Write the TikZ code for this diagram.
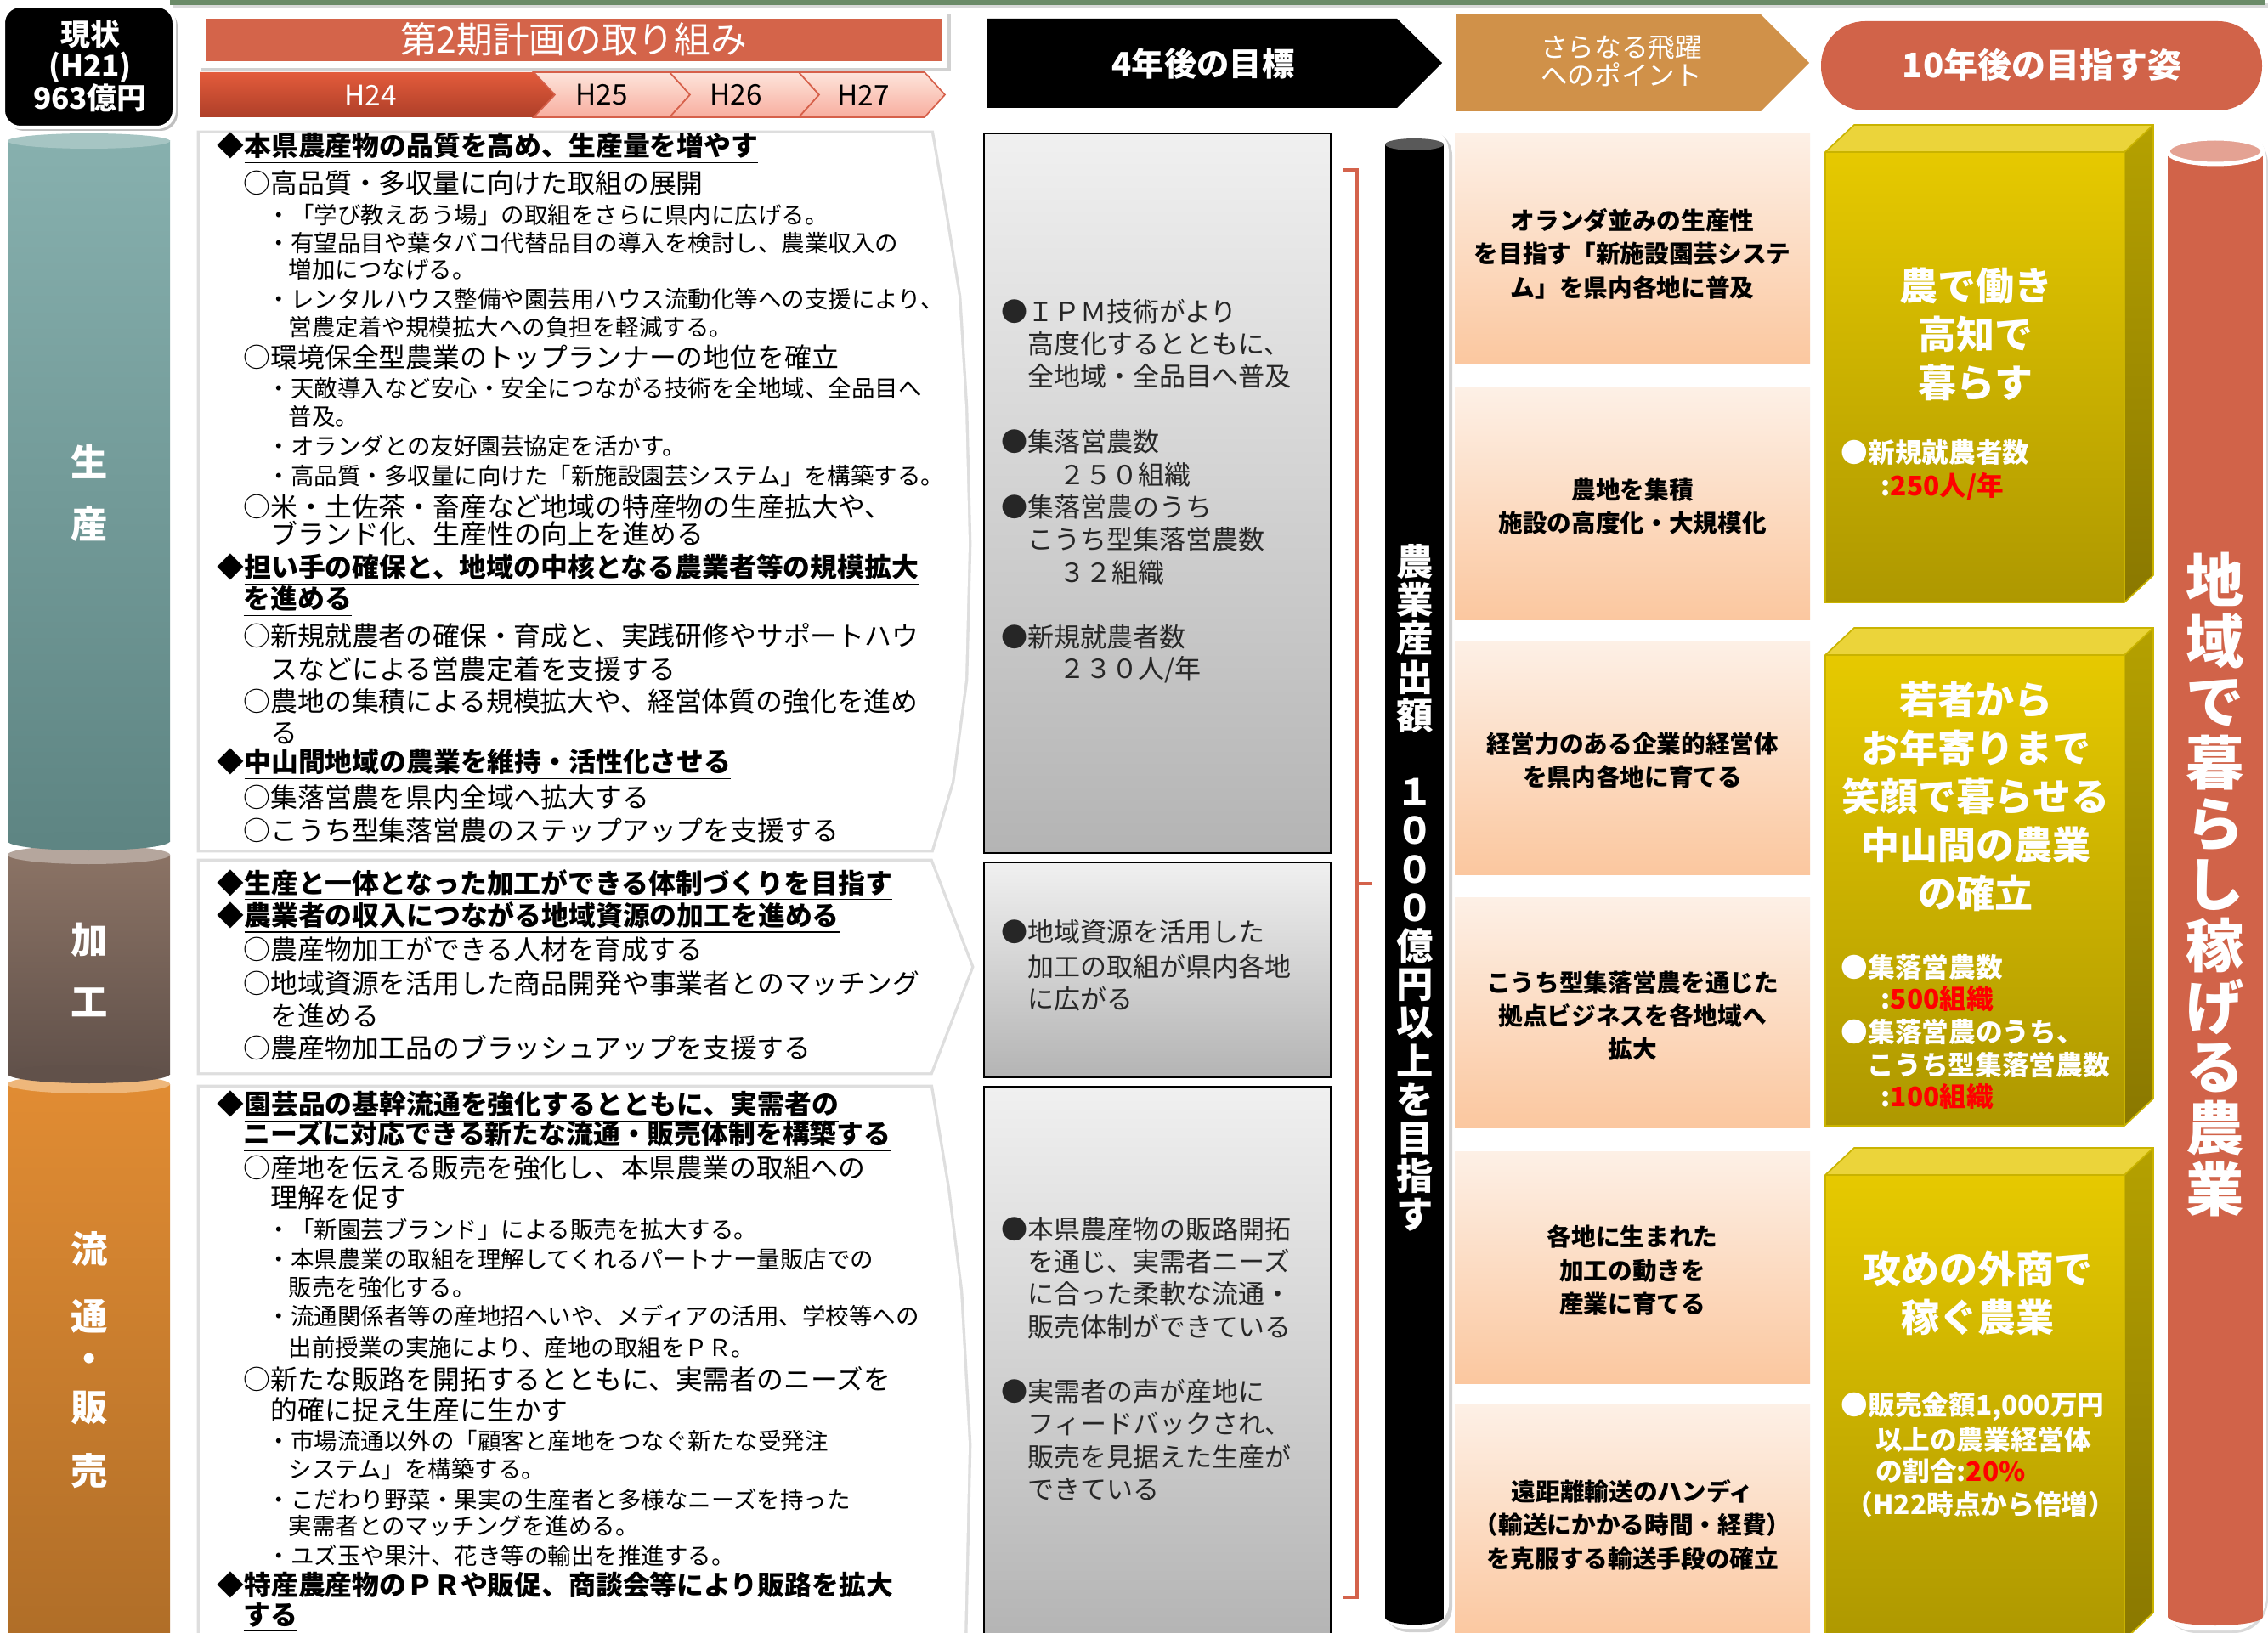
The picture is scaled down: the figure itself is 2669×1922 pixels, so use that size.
\documentclass[tikz,border=0pt]{standalone}
\usepackage{fontspec}
\setmainfont{Noto Sans CJK JP}
\newcommand\fs[1]{\fontsize{#1pt}{#1pt}\selectfont}
\newcommand\Tl[5]{\node[#1] (#2) at (#3,#4) {#5};}
\definecolor{grn}{HTML}{6B8B68}
\definecolor{hdred}{HTML}{D4644A}
\definecolor{pillred}{HTML}{D16349}
\definecolor{tanc}{HTML}{D09149}
\definecolor{brk}{HTML}{D4634C}
\definecolor{capR}{HTML}{E4A293}
\definecolor{tlA}{HTML}{E35B3B}
\definecolor{tlB}{HTML}{AE3F29}
\definecolor{tpA}{HTML}{FDE4DB}
\definecolor{tpB}{HTML}{F8AE9F}
\definecolor{tpD}{HTML}{D6604A}
\definecolor{gA}{HTML}{F0F0F0}
\definecolor{gB}{HTML}{B4B4B4}
\definecolor{pA}{HTML}{FDF0E6}
\definecolor{pB}{HTML}{FBC79F}
\definecolor{yA}{HTML}{E6C900}
\definecolor{yB}{HTML}{AE9800}
\definecolor{yT}{HTML}{EBD43A}
\definecolor{yR1}{HTML}{B5A100}
\definecolor{yR2}{HTML}{8A7800}
\definecolor{yE}{HTML}{C9B300}
\definecolor{seA}{HTML}{87B0AE}
\definecolor{seB}{HTML}{5E8583}
\definecolor{seC}{HTML}{A6C5C3}
\definecolor{kaA}{HTML}{8B7365}
\definecolor{kaB}{HTML}{61514A}
\definecolor{kaC}{HTML}{B5A69D}
\definecolor{ruA}{HTML}{E18C33}
\definecolor{ruB}{HTML}{B06E28}
\definecolor{ruC}{HTML}{EEB77B}
\definecolor{rednum}{HTML}{FF0000}
\newcommand\ybox[2]{%
 \shade[top color=yA,bottom color=yB] (2148,#1) rectangle (2500,#2);
 \fill[yT] (2148,#1) -- (2182,{#1-32}) -- (2534,{#1-32}) -- (2500,#1) -- cycle;
 \shade[top color=yR1,bottom color=yR2] (2500,#1) -- (2534,{#1-32}) -- (2534,{#2-32}) -- (2500,#2) -- cycle;
 \draw[yE,line width=0.5pt] (2148,#2) -- (2148,#1) -- (2182,{#1-32}) -- (2534,{#1-32}) -- (2534,{#2-32}) -- (2500,#2) -- cycle (2148,#1) -- (2500,#1) -- (2534,{#1-32}) (2500,#1) -- (2500,#2);
}
\begin{document}
\begin{tikzpicture}[x=0.3pt,y=-0.3pt,
 txhd/.style={anchor=west,inner sep=0pt,font=\fs{9.55}\bfseries},
 txci/.style={anchor=west,inner sep=0pt,font=\fs{9.55}},
 txdt/.style={anchor=west,inner sep=0pt,font=\fs{8.25}},
 txg/.style={anchor=west,inner sep=0pt,font=\fs{9.3},text=black!85},
 txp/.style={align=center,inner sep=0pt,font=\fontsize{8.6pt}{11.8pt}\selectfont\bfseries},
 txyb/.style={align=center,inner sep=0pt,text=white,font=\fontsize{13.5pt}{17.1pt}\selectfont\bfseries},
 txys/.style={anchor=west,inner sep=0pt,text=white,font=\fs{9.5}\bfseries},
 txcl/.style={inner sep=0pt,text=white,font=\fs{13}\bfseries},
 txtl/.style={inner sep=0pt,font=\fs{10}}]
\useasboundingbox (0,0) rectangle (2669,1922);
\fill[white] (0,0) rectangle (2669,1922);

% top green bar
\fill[black!15] (204,4) rectangle (2669,10);
\fill[grn] (200,0) rectangle (2665,6);

% left cylinders
\shade[top color=ruA,bottom color=ruB] (9,1276) rectangle (200,1922);
\fill[ruC] (104.5,1276) ellipse (95.5 and 11);
\shade[top color=kaA,bottom color=kaB] (9,1006) rectangle (200,1264);
\fill[kaB] (104.5,1264) ellipse (95.5 and 11);
\fill[kaC] (104.5,1006) ellipse (95.5 and 11);
\shade[top color=seA,bottom color=seB] (9,166) rectangle (200,990);
\fill[seB] (104.5,990) ellipse (95.5 and 11);
\fill[seC] (104.5,166) ellipse (95.5 and 9);
\Tl{txcl}{c1}{105}{543}{生}
\Tl{txcl}{c2}{105}{617}{産}
\Tl{txcl}{c3}{105}{1106}{加}
\Tl{txcl}{c4}{105}{1180}{工}
\Tl{txcl}{c5}{105}{1470}{流}
\Tl{txcl}{c6}{105}{1549}{通}
\Tl{txcl}{c7}{105}{1604}{・}
\Tl{txcl}{c8}{105}{1657}{販}
\Tl{txcl}{c9}{105}{1731}{売}

% current status box
\fill[black!25,rounded corners=6pt] (8,11) rectangle (209,154);
\draw[white,line width=1.2pt,fill=black,rounded corners=6pt] (4,7) rectangle (205,150);
\node[align=center,inner sep=0pt,text=white,font=\fontsize{10.5pt}{11.25pt}\selectfont\bfseries] (gen) at (106,77.5) {現状\\(H21)\\963億円};

% header bar
\fill[black!18] (237,17) rectangle (1119,84);
\fill[white] (233,13) rectangle (1115,80);
\fill[hdred] (242,22) rectangle (1108,72);
\node[inner sep=0pt,text=white,font=\fs{12.8}] (ttl) at (675,46) {第2期計画の取り組み};

% timeline
\shade[top color=tlA,bottom color=tlB] (235,85) -- (628,85) -- (653,111.5) -- (628,138) -- (235,138) -- cycle;
\shadedraw[top color=tpA,bottom color=tpB,draw=tpD,line width=0.5pt] (628,85) -- (788,85) -- (812,111.5) -- (788,138) -- (628,138) -- (653,111.5) -- cycle;
\shadedraw[top color=tpA,bottom color=tpB,draw=tpD,line width=0.5pt] (788,85) -- (940,85) -- (964,111.5) -- (940,138) -- (788,138) -- (812,111.5) -- cycle;
\shadedraw[top color=tpA,bottom color=tpB,draw=tpD,line width=0.5pt] (940,85) -- (1088,85) -- (1112,111.5) -- (1088,138) -- (940,138) -- (964,111.5) -- cycle;
\Tl{txtl,text=white}{h24}{436}{112}{H24}
\Tl{txtl}{h25}{708}{112}{H25}
\Tl{txtl}{h26}{866}{112}{H26}
\Tl{txtl}{h27}{1016}{112}{H27}

% left text boxes
\draw[black!13,line width=2pt,fill=black!13] (235,157) -- (1096,157) -- (1112,250) -- (1128,349) -- (1136,480) -- (1140,640) -- (1136,800) -- (1120,920) -- (1096,1000) -- (235,1000) -- cycle;
\fill[white] (235,157) -- (1096,157) -- (1112,250) -- (1128,349) -- (1136,480) -- (1140,640) -- (1136,800) -- (1120,920) -- (1096,1000) -- (235,1000) -- cycle;
\draw[black!13,line width=2pt,fill=black!13] (235,1014) -- (1095,1014) -- (1143,1138) -- (1095,1262) -- (235,1262) -- cycle;
\fill[white] (235,1014) -- (1095,1014) -- (1143,1138) -- (1095,1262) -- (235,1262) -- cycle;
\draw[black!13,line width=2pt,fill=black!13] (235,1280) -- (1095,1280) -- (1115,1400) -- (1130,1520) -- (1140,1700) -- (1135,1930) -- (235,1930) -- cycle;
\fill[white] (235,1280) -- (1095,1280) -- (1115,1400) -- (1130,1520) -- (1140,1700) -- (1135,1930) -- (235,1930) -- cycle;

% box 1 text
\Tl{txhd}{b1a}{255}{175}{◆\underline{本県農産物の品質を高め、生産量を増やす}}
\Tl{txci}{b1b}{286}{215}{○高品質・多収量に向けた取組の展開}
\Tl{txdt}{b1c}{314}{253}{・「学び教えあう場」の取組をさらに県内に広げる。}
\Tl{txdt}{b1d}{314}{286}{・有望品目や葉タバコ代替品目の導入を検討し、農業収入の}
\Tl{txdt}{b1e}{339}{317}{増加につなげる。}
\Tl{txdt}{b1f}{314}{352}{・レンタルハウス整備や園芸用ハウス流動化等への支援により、}
\Tl{txdt}{b1g}{339}{385}{営農定着や規模拡大への負担を軽減する。}
\Tl{txci}{b1h}{286}{420}{○環境保全型農業のトップランナーの地位を確立}
\Tl{txdt}{b1i}{314}{457}{・天敵導入など安心・安全につながる技術を全地域、全品目へ}
\Tl{txdt}{b1j}{339}{490}{普及。}
\Tl{txdt}{b1k}{314}{525}{・オランダとの友好園芸協定を活かす。}
\Tl{txdt}{b1l}{314}{560}{・高品質・多収量に向けた「新施設園芸システム」を構築する。}
\Tl{txci}{b1m}{286}{596}{○米・土佐茶・畜産など地域の特産物の生産拡大や、}
\Tl{txci}{b1n}{318}{628}{ブランド化、生産性の向上を進める}
\Tl{txhd}{b1o}{255}{671}{◆\underline{担い手の確保と、地域の中核となる農業者等の規模拡大}}
\Tl{txhd}{b1p}{286}{708}{\underline{を進める}}
\Tl{txci}{b1q}{286}{748}{○新規就農者の確保・育成と、実践研修やサポートハウ}
\Tl{txci}{b1r}{318}{787}{スなどによる営農定着を支援する}
\Tl{txci}{b1s}{286}{825}{○農地の集積による規模拡大や、経営体質の強化を進め}
\Tl{txci}{b1t}{318}{863}{る}
\Tl{txhd}{b1u}{255}{900}{◆\underline{中山間地域の農業を維持・活性化させる}}
\Tl{txci}{b1v}{286}{938}{○集落営農を県内全域へ拡大する}
\Tl{txci}{b1w}{286}{977}{○こうち型集落営農のステップアップを支援する}

% box 2 text
\Tl{txhd}{b2a}{255}{1042}{◆\underline{生産と一体となった加工ができる体制づくりを目指す}}
\Tl{txhd}{b2b}{255}{1080}{◆\underline{農業者の収入につながる地域資源の加工を進める}}
\Tl{txci}{b2c}{286}{1117}{○農産物加工ができる人材を育成する}
\Tl{txci}{b2d}{286}{1157}{○地域資源を活用した商品開発や事業者とのマッチング}
\Tl{txci}{b2e}{318}{1195}{を進める}
\Tl{txci}{b2f}{286}{1233}{○農産物加工品のブラッシュアップを支援する}

% box 3 text
\Tl{txhd}{b3a}{255}{1303}{◆\underline{園芸品の基幹流通を強化するとともに、実需者の}}
\Tl{txhd}{b3b}{286}{1337}{\underline{ニーズに対応できる新たな流通・販売体制を構築する}}
\Tl{txci}{b3c}{286}{1374}{○産地を伝える販売を強化し、本県農業の取組への}
\Tl{txci}{b3d}{318}{1409}{理解を促す}
\Tl{txdt}{b3e}{314}{1447}{・「新園芸ブランド」による販売を拡大する。}
\Tl{txdt}{b3f}{314}{1482}{・本県農業の取組を理解してくれるパートナー量販店での}
\Tl{txdt}{b3g}{339}{1515}{販売を強化する。}
\Tl{txdt}{b3h}{314}{1549}{・流通関係者等の産地招へいや、メディアの活用、学校等への}
\Tl{txdt}{b3i}{339}{1586}{出前授業の実施により、産地の取組をＰＲ。}
\Tl{txci}{b3j}{286}{1623}{○新たな販路を開拓するとともに、実需者のニーズを}
\Tl{txci}{b3k}{318}{1659}{的確に捉え生産に生かす}
\Tl{txdt}{b3l}{314}{1696}{・市場流通以外の「顧客と産地をつなぐ新たな受発注}
\Tl{txdt}{b3m}{339}{1729}{システム」を構築する。}
\Tl{txdt}{b3n}{314}{1765}{・こだわり野菜・果実の生産者と多様なニーズを持った}
\Tl{txdt}{b3o}{339}{1796}{実需者とのマッチングを進める。}
\Tl{txdt}{b3p}{314}{1831}{・ユズ玉や果汁、花き等の輸出を推進する。}
\Tl{txhd}{b3q}{255}{1869}{◆\underline{特産農産物のＰＲや販促、商談会等により販路を拡大}}
\Tl{txhd}{b3r}{286}{1904}{\underline{する}}

% 4-year goal header
\fill[black] (1162,22) -- (1644,22) -- (1697,74) -- (1644,127) -- (1162,127) -- cycle;
\node[inner sep=0pt,text=white,font=\fs{11.5}\bfseries] (h4) at (1416,75) {4年後の目標};

% gray goal boxes
\shadedraw[top color=gA,bottom color=gB,draw=black,line width=0.6pt] (1158,157) rectangle (1566,1004);
\shadedraw[top color=gA,bottom color=gB,draw=black,line width=0.6pt] (1158,1015) rectangle (1566,1268);
\shadedraw[top color=gA,bottom color=gB,draw=black,line width=0.6pt] (1158,1279) rectangle (1566,1930);
\Tl{txg}{g1a}{1178}{367}{●ＩＰＭ技術がより}
\Tl{txg}{g1b}{1209}{405}{高度化するとともに、}
\Tl{txg}{g1c}{1209}{443}{全地域・全品目へ普及}
\Tl{txg}{g1d}{1178}{520}{●集落営農数}
\Tl{txg}{g1e}{1246}{559}{２５０組織}
\Tl{txg}{g1f}{1178}{597}{●集落営農のうち}
\Tl{txg}{g1g}{1209}{635}{こうち型集落営農数}
\Tl{txg}{g1h}{1246}{674}{３２組織}
\Tl{txg}{g1i}{1178}{750}{●新規就農者数}
\Tl{txg}{g1j}{1246}{788}{２３０人/年}
\Tl{txg}{g2a}{1178}{1097}{●地域資源を活用した}
\Tl{txg}{g2b}{1209}{1138}{加工の取組が県内各地}
\Tl{txg}{g2c}{1209}{1176}{に広がる}
\Tl{txg}{g3a}{1178}{1447}{●本県農産物の販路開拓}
\Tl{txg}{g3b}{1209}{1485}{を通じ、実需者ニーズ}
\Tl{txg}{g3c}{1209}{1523}{に合った柔軟な流通・}
\Tl{txg}{g3d}{1209}{1562}{販売体制ができている}
\Tl{txg}{g3e}{1178}{1638}{●実需者の声が産地に}
\Tl{txg}{g3f}{1209}{1676}{フィードバックされ、}
\Tl{txg}{g3g}{1209}{1715}{販売を見据えた生産が}
\Tl{txg}{g3h}{1209}{1753}{できている}

% bracket
\draw[brk,line width=1.2pt] (1580,200) -- (1597,200) -- (1597,1880) -- (1580,1880);
\draw[brk,line width=1.2pt] (1597,1040) -- (1614,1040);

% black pillar
\fill[black!18,rounded corners=9pt] (1628,153) rectangle (1709,1921);
\fill[white,rounded corners=9pt] (1624,149) rectangle (1705,1917);
\fill[black] (1630,170) rectangle (1699,1904);
\fill[black] (1664.5,1904) ellipse (34.5 and 8);
\fill[black!65] (1664.5,170) ellipse (34.5 and 7);
\node[align=center,inner sep=0pt,text=white,font=\fontsize{13pt}{13.56pt}\selectfont\bfseries] (vt1) at (1665,1045) {農\\業\\産\\出\\額\\\mbox{}\\１\\０\\０\\０\\億\\円\\以\\上\\を\\目\\指\\す};

% further points header
\fill[tanc] (1714,17) -- (2072,17) -- (2129,74) -- (2072,131) -- (1714,131) -- cycle;
\node[align=center,inner sep=0pt,text=white,font=\fontsize{9.5pt}{10pt}\selectfont] (hp) at (1908,71.5) {さらなる飛躍\\へのポイント};

% peach boxes
\shade[top color=pA,bottom color=pB] (1712,157) rectangle (2130,429);
\shade[top color=pA,bottom color=pB] (1712,456) rectangle (2130,730);
\shade[top color=pA,bottom color=pB] (1712,755) rectangle (2130,1029);
\shade[top color=pA,bottom color=pB] (1712,1056) rectangle (2130,1327);
\shade[top color=pA,bottom color=pB] (1712,1355) rectangle (2130,1628);
\shade[top color=pA,bottom color=pB] (1712,1653) rectangle (2130,1930);
\node[txp] (p1) at (1921,298.5) {オランダ並みの生産性\\を目指す「新施設園芸システ\\ム」を県内各地に普及};
\node[txp] (p2) at (1921,596) {農地を集積\\施設の高度化・大規模化};
\node[txp] (p3) at (1921,895) {経営力のある企業的経営体\\を県内各地に育てる};
\node[txp] (p4) at (1921,1195.5) {こうち型集落営農を通じた\\拠点ビジネスを各地域へ\\拡大};
\node[txp] (p5) at (1921,1495) {各地に生まれた\\加工の動きを\\産業に育てる};
\node[txp] (p6) at (1921,1794.5) {遠距離輸送のハンディ\\（輸送にかかる時間・経費）\\を克服する輸送手段の確立};

% 10-year header
\fill[pillred,rounded corners=15.5pt] (2143,25) rectangle (2662,130);
\node[inner sep=0pt,text=white,font=\fs{12}\bfseries] (h10) at (2403,76) {10年後の目指す姿};

% yellow boxes
\ybox{179}{709}
\ybox{771}{1325}
\ybox{1383}{1930}
\node[txyb] (y1) at (2325,393) {農で働き\\高知で\\暮らす};
\node[txyb] (y2) at (2325,937) {若者から\\お年寄りまで\\笑顔で暮らせる\\中山間の農業\\の確立};
\node[txyb] (y3) at (2327,1522) {攻めの外商で\\稼ぐ農業};
\Tl{txys}{ys1}{2166}{533}{●新規就農者数}
\Tl{txys}{ys2}{2213}{573}{:\textcolor{rednum}{250人/年}}
\Tl{txys}{ys3}{2166}{1138}{●集落営農数}
\Tl{txys}{ys4}{2213}{1176}{:\textcolor{rednum}{500組織}}
\Tl{txys}{ys5}{2166}{1214}{●集落営農のうち、}
\Tl{txys}{ys6}{2197}{1253}{こうち型集落営農数}
\Tl{txys}{ys7}{2213}{1291}{:\textcolor{rednum}{100組織}}
\Tl{txys}{ys8}{2166}{1655}{●販売金額1,000万円}
\Tl{txys}{ys9}{2207}{1694}{以上の農業経営体}
\Tl{txys}{ys10}{2207}{1732}{の割合:\textcolor{rednum}{20\%}}
\Tl{txys}{ys11}{2172}{1770}{（H22時点から倍増）}

% red pillar
\fill[black!15,rounded corners=12pt] (2545,153) rectangle (2669,1922);
\fill[white,rounded corners=12pt] (2541,149) rectangle (2667,1919);
\fill[pillred] (2551,178) rectangle (2663,1903);
\fill[pillred] (2607,1903) ellipse (56 and 10);
\draw[white,line width=1.5pt,fill=capR] (2607,178) ellipse (56 and 15);
\node[align=center,inner sep=0pt,text=white,font=\fontsize{20.5pt}{21.5pt}\selectfont\bfseries] (vt2) at (2607,1041) {地\\域\\で\\暮\\ら\\し\\稼\\げ\\る\\農\\業};
\end{tikzpicture}
\end{document}
